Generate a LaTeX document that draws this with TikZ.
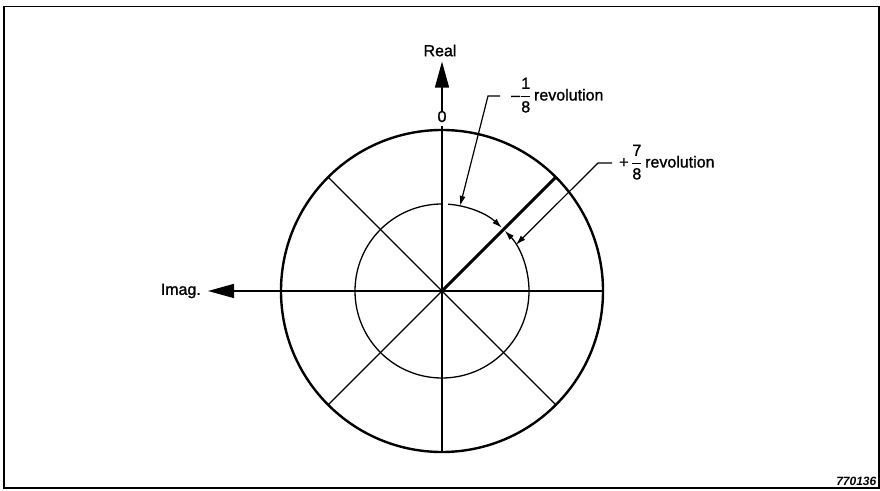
\documentclass[tikz,border=0pt]{standalone}
\usepackage{fontspec}
\setmainfont{Liberation Sans}
\newfontfamily\medfont{Liberation Sans}[RawFeature={embolden=1.3}]
\usetikzlibrary{arrows.meta}
\newcommand\revfrac[2]{$\displaystyle\frac{\mbox{#1}}{\mbox{#2}}$}
\begin{document}
\begin{tikzpicture}[x=1pt,y=1pt,
  txt/.style={font=\medfont\fontsize{16}{19}\selectfont, inner sep=0pt},
  bigtip/.style={-{Triangle[length=26pt,width=14pt]}, line width=1.4pt},
  spoke/.style={line width=1.3pt},
  lead/.style={line width=1.2pt, -{Latex[length=10pt,width=6pt]}},
  arctip/.style={line width=1.3pt, -{Latex[length=10pt,width=6pt]}}]
\useasboundingbox (0,0) rectangle (880,490);
% frame
\draw[line width=1.4pt] (4,2) rectangle (879,483.5);
% centre and outer circle
\coordinate (O) at (442,199);
\draw[line width=2.4pt] (O) circle[radius=161];
\path (O) ++(0:161) coordinate (E)
      (O) ++(45:161) coordinate (NE)
      (O) ++(135:161) coordinate (NW)
      (O) ++(225:161) coordinate (SW)
      (O) ++(315:161) coordinate (SE)
      (O) ++(270:161) coordinate (S)
      (O) ++(78:87) coordinate (t1)
      (O) ++(32:87) coordinate (t2);
% labels
\node[txt] (real) at (440,439.5) {Real};
\node[txt] (zero) at (442,373.5) {0};
\node[txt, anchor=east] (imag) at (201,199) {Imag.};
% axes
\draw[bigtip, shorten >=5pt] (zero.north) -- (zero.north |- real.south);
\draw[spoke] ([yshift=-4pt]zero.south) -- (S);
\draw[bigtip, shorten >=7pt] (E) -- (imag.east);
% diagonals
\draw[spoke] (NW) -- (SE);
\draw[spoke] (SW) -- (O);
\draw[line width=3pt] (O) -- (NE);
% inner circle with arrows
\draw[arctip] (O) ++(90:87) arc[start angle=90, end angle=404, radius=87];
\draw[arctip] (O) ++(86:87) arc[start angle=86, end angle=46.5, radius=87];
% leaders
\coordinate (m1) at (488,394);
\coordinate (m1e) at (500,394);
\coordinate (m2) at (598,327);
\coordinate (m2e) at (612,327);
\draw[lead] (m1e) -- (m1) -- (t1);
\draw[lead] (m2e) -- (m2) -- (t2);
\node[txt, anchor=base west] (r1) at (511,389.5) {\mbox{–}\revfrac{1}{8}\,revolution};
\node[txt, anchor=base west] (r2) at (619,322.5) {+\,\revfrac{7}{8}\,revolution};
% figure number
\node[font=\fontsize{12}{14}\selectfont\bfseries\itshape, anchor=base east, inner sep=0pt] (fig) at (876.5,5) {770136};
\end{tikzpicture}
\end{document}
